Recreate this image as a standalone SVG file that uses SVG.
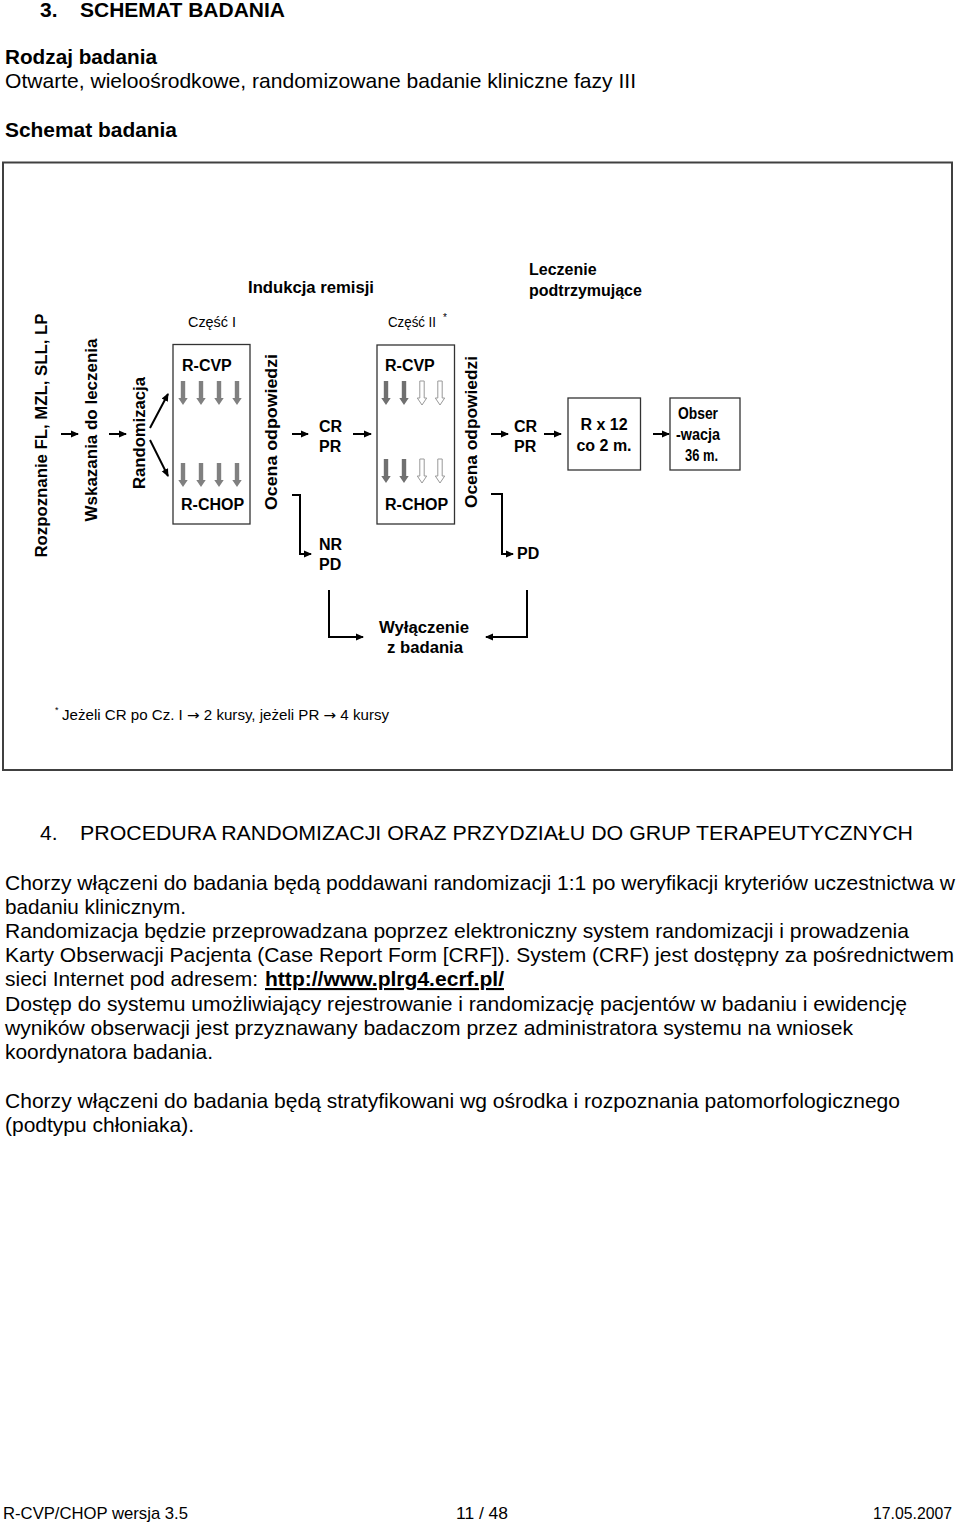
<svg xmlns="http://www.w3.org/2000/svg" xmlns:xlink="http://www.w3.org/1999/xlink" width="960" height="1527" viewBox="0 0 960 1527">
<style>
text{font-family:"Liberation Sans",Arial,sans-serif;fill:#000}
.h{font-size:21px;font-weight:bold}
.t{font-size:21px}
.b16{font-size:16px;font-weight:bold}
.r14{font-size:14px}
.ln{stroke:#000;stroke-width:2;fill:none}
.box{fill:#fff;stroke:#333;stroke-width:1.3}
.ga{fill:#808080;stroke:none}
.go{fill:#fff;stroke:#999;stroke-width:1}
.gd{fill:#707070;stroke:none}
.ar{font-family:"DejaVu Sans",sans-serif}
.ft{font-size:17px}
</style>
<defs>
<marker id="ah" markerWidth="8" markerHeight="8" refX="7" refY="4" orient="auto" markerUnits="userSpaceOnUse">
<path d="M0,0.5 L8,4 L0,7.5 Z" fill="#000"/>
</marker>
<path id="ga" d="M-2.2,0 H2.2 V17 H4.7 L0,24 L-4.7,17 H-2.2 Z"/>
</defs>
<rect width="960" height="1527" fill="#fff"/>

<!-- header -->
<text class="h" x="40" y="17">3.</text>
<text class="h" x="80" y="17" textLength="205" lengthAdjust="spacingAndGlyphs">SCHEMAT BADANIA</text>
<text class="h" x="5" y="64" textLength="152" lengthAdjust="spacingAndGlyphs">Rodzaj badania</text>
<text class="t" x="5" y="88" textLength="631" lengthAdjust="spacingAndGlyphs">Otwarte, wieloośrodkowe, randomizowane badanie kliniczne fazy III</text>
<text class="h" x="5" y="137" textLength="172" lengthAdjust="spacingAndGlyphs">Schemat badania</text>

<!-- outer frame -->
<rect x="3" y="162.5" width="949" height="607.5" fill="none" stroke="#404040" stroke-width="2"/>

<!-- phase labels -->
<text class="b16" x="248" y="293" textLength="126" lengthAdjust="spacingAndGlyphs">Indukcja remisji</text>
<text class="b16" x="529" y="275">Leczenie</text>
<text class="b16" x="529" y="296">podtrzymujące</text>
<text class="r14" x="188" y="327" textLength="48" lengthAdjust="spacingAndGlyphs">Część I</text>
<text class="r14" x="388" y="327" textLength="48" lengthAdjust="spacingAndGlyphs">Część II</text>
<text x="443" y="321" font-size="10">*</text>

<!-- vertical labels -->
<g id="n-rozpoznanie"><text class="b16" transform="translate(47,435.5) rotate(-90)" text-anchor="middle" textLength="244" lengthAdjust="spacingAndGlyphs">Rozpoznanie FL, MZL, SLL, LP</text></g>
<g id="n-wskazania"><text class="b16" transform="translate(97,430) rotate(-90)" text-anchor="middle" textLength="183" lengthAdjust="spacingAndGlyphs">Wskazania do leczenia</text></g>
<g id="n-randomizacja"><text class="b16" transform="translate(145,433) rotate(-90)" text-anchor="middle" textLength="112" lengthAdjust="spacingAndGlyphs">Randomizacja</text></g>
<g id="n-ocena1"><text class="b16" transform="translate(277,432) rotate(-90)" text-anchor="middle" textLength="156" lengthAdjust="spacingAndGlyphs">Ocena odpowiedzi</text></g>
<g id="n-ocena2"><text class="b16" transform="translate(477,432) rotate(-90)" text-anchor="middle" textLength="152" lengthAdjust="spacingAndGlyphs">Ocena odpowiedzi</text></g>

<!-- box 1 -->
<g id="n-czesc1">
<rect class="box" x="173" y="344.5" width="77" height="179.5"/>
<text class="b16" x="182" y="371">R-CVP</text>
<text class="b16" x="181" y="510">R-CHOP</text>
<use href="#ga" class="ga" x="183" y="381"/>
<use href="#ga" class="ga" x="201" y="381"/>
<use href="#ga" class="ga" x="219" y="381"/>
<use href="#ga" class="ga" x="237" y="381"/>
<use href="#ga" class="ga" x="183" y="463"/>
<use href="#ga" class="ga" x="201" y="463"/>
<use href="#ga" class="ga" x="219" y="463"/>
<use href="#ga" class="ga" x="237" y="463"/>
</g>

<!-- box 2 -->
<g id="n-czesc2">
<rect class="box" x="377" y="345" width="77.5" height="179"/>
<text class="b16" x="385" y="371">R-CVP</text>
<text class="b16" x="385" y="510">R-CHOP</text>
<use href="#ga" class="gd" x="386" y="381"/>
<use href="#ga" class="gd" x="404" y="381"/>
<use href="#ga" class="go" x="422" y="381"/>
<use href="#ga" class="go" x="440" y="381"/>
<use href="#ga" class="gd" x="386" y="459"/>
<use href="#ga" class="gd" x="404" y="459"/>
<use href="#ga" class="go" x="422" y="459"/>
<use href="#ga" class="go" x="440" y="459"/>
</g>

<!-- outcome labels -->
<g id="n-crpr1"><text class="b16" x="319" y="432">CR</text><text class="b16" x="319" y="452">PR</text></g>
<g id="n-nrpd"><text class="b16" x="319" y="550">NR</text><text class="b16" x="319" y="570">PD</text></g>
<g id="n-crpr2"><text class="b16" x="514" y="432">CR</text><text class="b16" x="514" y="452">PR</text></g>
<g id="n-pd2"><text class="b16" x="517" y="559">PD</text></g>

<!-- maintenance boxes -->
<g id="n-rx12">
<rect class="box" x="568" y="398" width="72.5" height="72"/>
<text class="b16" x="604" y="430" text-anchor="middle">R x 12</text>
<text class="b16" x="604" y="451" text-anchor="middle">co 2 m.</text>
</g>
<g id="n-obserwacja">
<rect class="box" x="670" y="398" width="70" height="72"/>
<text class="b16" x="678" y="419" textLength="40" lengthAdjust="spacingAndGlyphs">Obser</text>
<text class="b16" x="676" y="440" textLength="44" lengthAdjust="spacingAndGlyphs">-wacja</text>
<text class="b16" x="685" y="461" textLength="33" lengthAdjust="spacingAndGlyphs">36 m.</text>
</g>

<g id="n-wylaczenie">
<text class="b16" x="424" y="633" text-anchor="middle" textLength="90" lengthAdjust="spacingAndGlyphs">Wyłączenie</text>
<text class="b16" x="425" y="653" text-anchor="middle" textLength="76" lengthAdjust="spacingAndGlyphs">z badania</text>
</g>

<!-- connectors -->
<g id="connectors" class="ln" marker-end="url(#ah)">
<line x1="61" y1="434" x2="78" y2="434"/>
<line x1="109" y1="434" x2="126" y2="434"/>
<line x1="150" y1="428" x2="168" y2="394"/>
<line x1="150" y1="440" x2="168" y2="476"/>
<line x1="292" y1="434" x2="308" y2="434"/>
<line x1="353" y1="434" x2="371" y2="434"/>
<line x1="491" y1="434" x2="508" y2="434"/>
<line x1="544" y1="434" x2="561" y2="434"/>
<line x1="653" y1="434" x2="669" y2="434"/>
<polyline points="292,495 300,495 300,554 311,554"/>
<polyline points="491,494 502,494 502,554 513,554"/>
<polyline points="329,590 329,637 363,637"/>
<polyline points="527,590 527,637 486,637"/>
</g>

<!-- footnote -->
<text x="55" y="713" font-size="9">*</text>
<text x="62" y="720" font-size="14" textLength="327" lengthAdjust="spacingAndGlyphs">Jeżeli CR po Cz. I <tspan class="ar">→</tspan> 2 kursy, jeżeli PR <tspan class="ar">→</tspan> 4 kursy</text>

<!-- section 4 -->
<text class="t" x="40" y="840">4.</text>
<text class="t" x="80" y="840" textLength="833" lengthAdjust="spacingAndGlyphs">PROCEDURA RANDOMIZACJI ORAZ PRZYDZIAŁU DO GRUP TERAPEUTYCZNYCH</text>
<text class="t" x="5" y="890" textLength="950" lengthAdjust="spacingAndGlyphs">Chorzy włączeni do badania będą poddawani randomizacji 1:1 po weryfikacji kryteriów uczestnictwa w</text>
<text class="t" x="5" y="914" textLength="181" lengthAdjust="spacingAndGlyphs">badaniu klinicznym.</text>
<text class="t" x="5" y="938" textLength="904" lengthAdjust="spacingAndGlyphs">Randomizacja będzie przeprowadzana poprzez elektroniczny system randomizacji i prowadzenia</text>
<text class="t" x="5" y="962" textLength="949" lengthAdjust="spacingAndGlyphs">Karty Obserwacji Pacjenta (Case Report Form [CRF]). System (CRF) jest dostępny za pośrednictwem</text>
<text class="t" x="5" y="986" textLength="253" lengthAdjust="spacingAndGlyphs">sieci Internet pod adresem:</text>
<text class="h" x="265" y="986" textLength="239" lengthAdjust="spacingAndGlyphs" text-decoration="underline">http://www.plrg4.ecrf.pl/</text>
<text class="t" x="5" y="1011" textLength="902" lengthAdjust="spacingAndGlyphs">Dostęp do systemu umożliwiający rejestrowanie i randomizację pacjentów w badaniu i ewidencję</text>
<text class="t" x="5" y="1035" textLength="848" lengthAdjust="spacingAndGlyphs">wyników obserwacji jest przyznawany badaczom przez administratora systemu na wniosek</text>
<text class="t" x="5" y="1059" textLength="208" lengthAdjust="spacingAndGlyphs">koordynatora badania.</text>
<text class="t" x="5" y="1108" textLength="895" lengthAdjust="spacingAndGlyphs">Chorzy włączeni do badania będą stratyfikowani wg ośrodka i rozpoznania patomorfologicznego</text>
<text class="t" x="5" y="1132" textLength="189" lengthAdjust="spacingAndGlyphs">(podtypu chłoniaka).</text>

<!-- footer -->
<text class="ft" x="3" y="1519" textLength="185" lengthAdjust="spacingAndGlyphs">R-CVP/CHOP wersja 3.5</text>
<text class="ft" x="456" y="1519" textLength="52" lengthAdjust="spacingAndGlyphs">11 / 48</text>
<text class="ft" x="873" y="1519" textLength="79" lengthAdjust="spacingAndGlyphs">17.05.2007</text>
</svg>
